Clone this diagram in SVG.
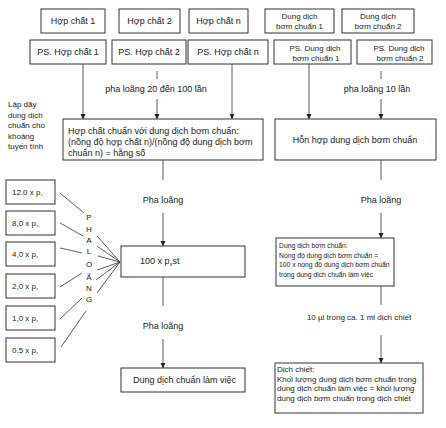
<svg xmlns="http://www.w3.org/2000/svg" width="446" height="428" viewBox="0 0 446 428">
<defs>
<marker id="ar" markerWidth="6" markerHeight="6" refX="5" refY="3" orient="auto" markerUnits="userSpaceOnUse">
<path d="M0,0.5 L5.5,3 L0,5.5 z" fill="#222"/>
</marker>
<style>
rect{fill:#fff;stroke:#333;stroke-width:1}
text{font-family:"Liberation Sans",Arial,sans-serif;fill:#222;font-size:9px}
.c{text-anchor:middle}
.s8{font-size:8px}
.s7{font-size:6.8px}
.ln{stroke:#333;stroke-width:0.8;fill:none}
.ar{marker-end:url(#ar)}
</style>
</defs>
<rect x="0" y="0" width="446" height="428" style="stroke:none;fill:#fff"/>

<g id="connectors">
<line class="ln ar" x1="83" y1="64" x2="83" y2="119"/>
<line class="ln" x1="157" y1="71" x2="157" y2="79"/>
<line class="ln ar" x1="157" y1="99" x2="157" y2="119"/>
<line class="ln ar" x1="232" y1="64" x2="232" y2="119"/>
<line class="ln ar" x1="309" y1="64" x2="309" y2="119"/>
<line class="ln" x1="381" y1="71" x2="381" y2="79"/>
<line class="ln ar" x1="381" y1="99" x2="381" y2="119"/>
<line class="ln" x1="163" y1="160" x2="163" y2="180"/>
<line class="ln ar" x1="163" y1="213" x2="163" y2="246"/>
<line class="ln" x1="381" y1="160" x2="381" y2="180"/>
<line class="ln ar" x1="381" y1="213" x2="381" y2="238"/>
<line class="ln" x1="163" y1="277" x2="163" y2="306"/>
<line class="ln ar" x1="163" y1="339" x2="163" y2="368"/>
<line class="ln" x1="381" y1="286" x2="381" y2="305"/>
<line class="ln ar" x1="381" y1="335" x2="381" y2="363"/>
<line class="ln" x1="60" y1="193" x2="84" y2="213"/>
<line class="ln" x1="60" y1="223" x2="83" y2="236"/>
<line class="ln" x1="60" y1="248" x2="82" y2="253"/>
<line class="ln" x1="60" y1="287" x2="82" y2="273"/>
<line class="ln" x1="60" y1="319" x2="82" y2="298"/>
<line class="ln" x1="61" y1="347" x2="86" y2="311"/>
<line class="ln" x1="97" y1="236" x2="120" y2="262"/>
<line class="ln" x1="97" y1="246" x2="120" y2="262"/>
<line class="ln" x1="98" y1="256" x2="120" y2="262"/>
<line class="ln" x1="97" y1="270" x2="120" y2="262"/>
<line class="ln" x1="96" y1="280" x2="120" y2="262"/>
<line class="ln" x1="97" y1="293" x2="120" y2="262"/>
</g>

<g id="hc1"><rect x="41" y="9" width="64" height="24"/><text class="c" x="73" y="24">Hợp chất 1</text></g>
<g id="hc2"><rect x="119" y="9" width="61" height="24"/><text class="c" x="149.5" y="24">Hợp chất 2</text></g>
<g id="hcn"><rect x="189" y="9" width="59" height="24"/><text class="c" x="218.5" y="24">Hợp chất n</text></g>
<g id="dd1"><rect x="265" y="9" width="69" height="24"/><text class="c s8" x="299.5" y="19">Dung dịch</text><text class="c s8" x="299.5" y="29">bơm chuẩn 1</text></g>
<g id="dd2"><rect x="342" y="9" width="72" height="24"/><text class="c s8" x="378" y="19">Dung dịch</text><text class="c s8" x="378" y="29">bơm chuẩn 2</text></g>

<g id="ps1"><rect x="30" y="40" width="76" height="24"/><text class="c" x="68" y="55">PS. Hợp chất 1</text></g>
<g id="ps2"><rect x="112" y="40" width="74" height="24"/><text class="c" x="149" y="55">PS. Hợp chất 2</text></g>
<g id="psn"><rect x="188" y="40" width="80" height="24"/><text class="c" x="228" y="55">PS. Hợp chất n</text></g>
<g id="psd1"><rect x="274" y="40" width="77" height="24"/><text class="c s8" x="315" y="51">PS. Dung dịch</text><text class="c s8" x="316" y="61">bơm chuẩn 1</text></g>
<g id="psd2"><rect x="357" y="40" width="75" height="24"/><text class="c s8" x="399" y="51">PS. Dung dịch</text><text class="c s8" x="400" y="61">bơm chuẩn 2</text></g>

<g id="lbl1"><text class="c" x="156" y="92">pha loãng 20 đến 100 lần</text></g>
<g id="lbl2"><text class="c" x="377" y="92">pha loãng 10 lần</text></g>

<g id="lapday">
<text class="s8" x="8" y="107">Lập dãy</text>
<text class="s8" x="8" y="117.5">dung dịch</text>
<text class="s8" x="8" y="128">chuẩn cho</text>
<text class="s8" x="8" y="138.5">khoảng</text>
<text class="s8" x="8" y="149">tuyến tính</text>
</g>

<g id="hcchuan"><rect x="63" y="119" width="200" height="41"/>
<text x="68" y="134">Hợp chất chuẩn với dung dịch bơm chuẩn:</text>
<text x="68" y="145">(nồng độ hợp chất n)/(nồng độ dung dịch bơm</text>
<text x="68" y="156">chuẩn n) = hằng số</text></g>

<g id="honhop"><rect x="275" y="119" width="161" height="41"/><text class="c" x="355" y="143">Hỗn hợp dung dịch bơm chuẩn</text></g>

<g id="lbl3"><text class="c" x="163" y="203">Pha loãng</text></g>
<g id="lbl4"><text class="c" x="381" y="203">Pha loãng</text></g>

<g id="v12"><rect x="6" y="180" width="49" height="24"/><text class="s8" x="12" y="195">12.0 x p,</text></g>
<g id="v8"><rect x="6" y="211" width="49" height="24"/><text class="s8" x="12" y="226">8,0 x p,</text></g>
<g id="v4"><rect x="6" y="242" width="49" height="24"/><text class="s8" x="12" y="257">4,0 x p,</text></g>
<g id="v2"><rect x="6" y="274" width="49" height="24"/><text class="s8" x="12" y="289">2,0 x p,</text></g>
<g id="v1"><rect x="6" y="306" width="49" height="24"/><text class="s8" x="12" y="321">1,0 x p,</text></g>
<g id="v05"><rect x="6" y="338" width="49" height="24"/><text class="s8" x="12" y="353">0.5 x p,</text></g>

<g id="phaloang-v">
<text class="c s8" x="89" y="220">P</text>
<text class="c s8" x="89" y="232">H</text>
<text class="c s8" x="89" y="243">A</text>
<text class="c s8" x="89" y="254">L</text>
<text class="c s8" x="89" y="267">O</text>
<text class="c s8" x="89" y="280">Ã</text>
<text class="c s8" x="89" y="291">N</text>
<text class="c s8" x="89" y="302">G</text>
</g>

<g id="p100"><rect x="121" y="246" width="124" height="31"/><text x="140" y="264">100 x p<tspan font-size="6" dy="2">x</tspan><tspan dy="-2">st</tspan></text></g>

<g id="ddbom"><rect x="276" y="238" width="118" height="48"/>
<text class="s7" x="279" y="248">Dung dịch bơm chuẩn:</text>
<text class="s7" x="279" y="257.5">Nồng độ dung dịch bơm chuẩn =</text>
<text class="s7" x="279" y="267">100 x nồng độ dung dịch bơm chuẩn</text>
<text class="s7" x="279" y="276.5">trong dung dịch chuẩn làm việc</text></g>

<g id="lbl5"><text class="c" x="163" y="329">Pha loãng</text></g>
<g id="lbl6"><text class="c s8" x="359" y="320">10 µl trong ca. 1 ml dịch chiết</text></g>

<g id="ddlv"><rect x="121" y="368" width="124" height="24"/><text x="133" y="383">Dung dịch chuẩn làm việc</text></g>

<g id="dichchiet"><rect x="275" y="363" width="148" height="50"/>
<text class="s8" x="277" y="372">Dịch chiết:</text>
<text class="s8" x="277" y="381.5">Khối lượng dung dịch bơm chuẩn trong</text>
<text class="s8" x="277" y="391">dung dịch chuẩn làm việc = khối lượng</text>
<text class="s8" x="277" y="400.5">dung dịch bơm chuẩn trong dịch chiết</text></g>
</svg>
